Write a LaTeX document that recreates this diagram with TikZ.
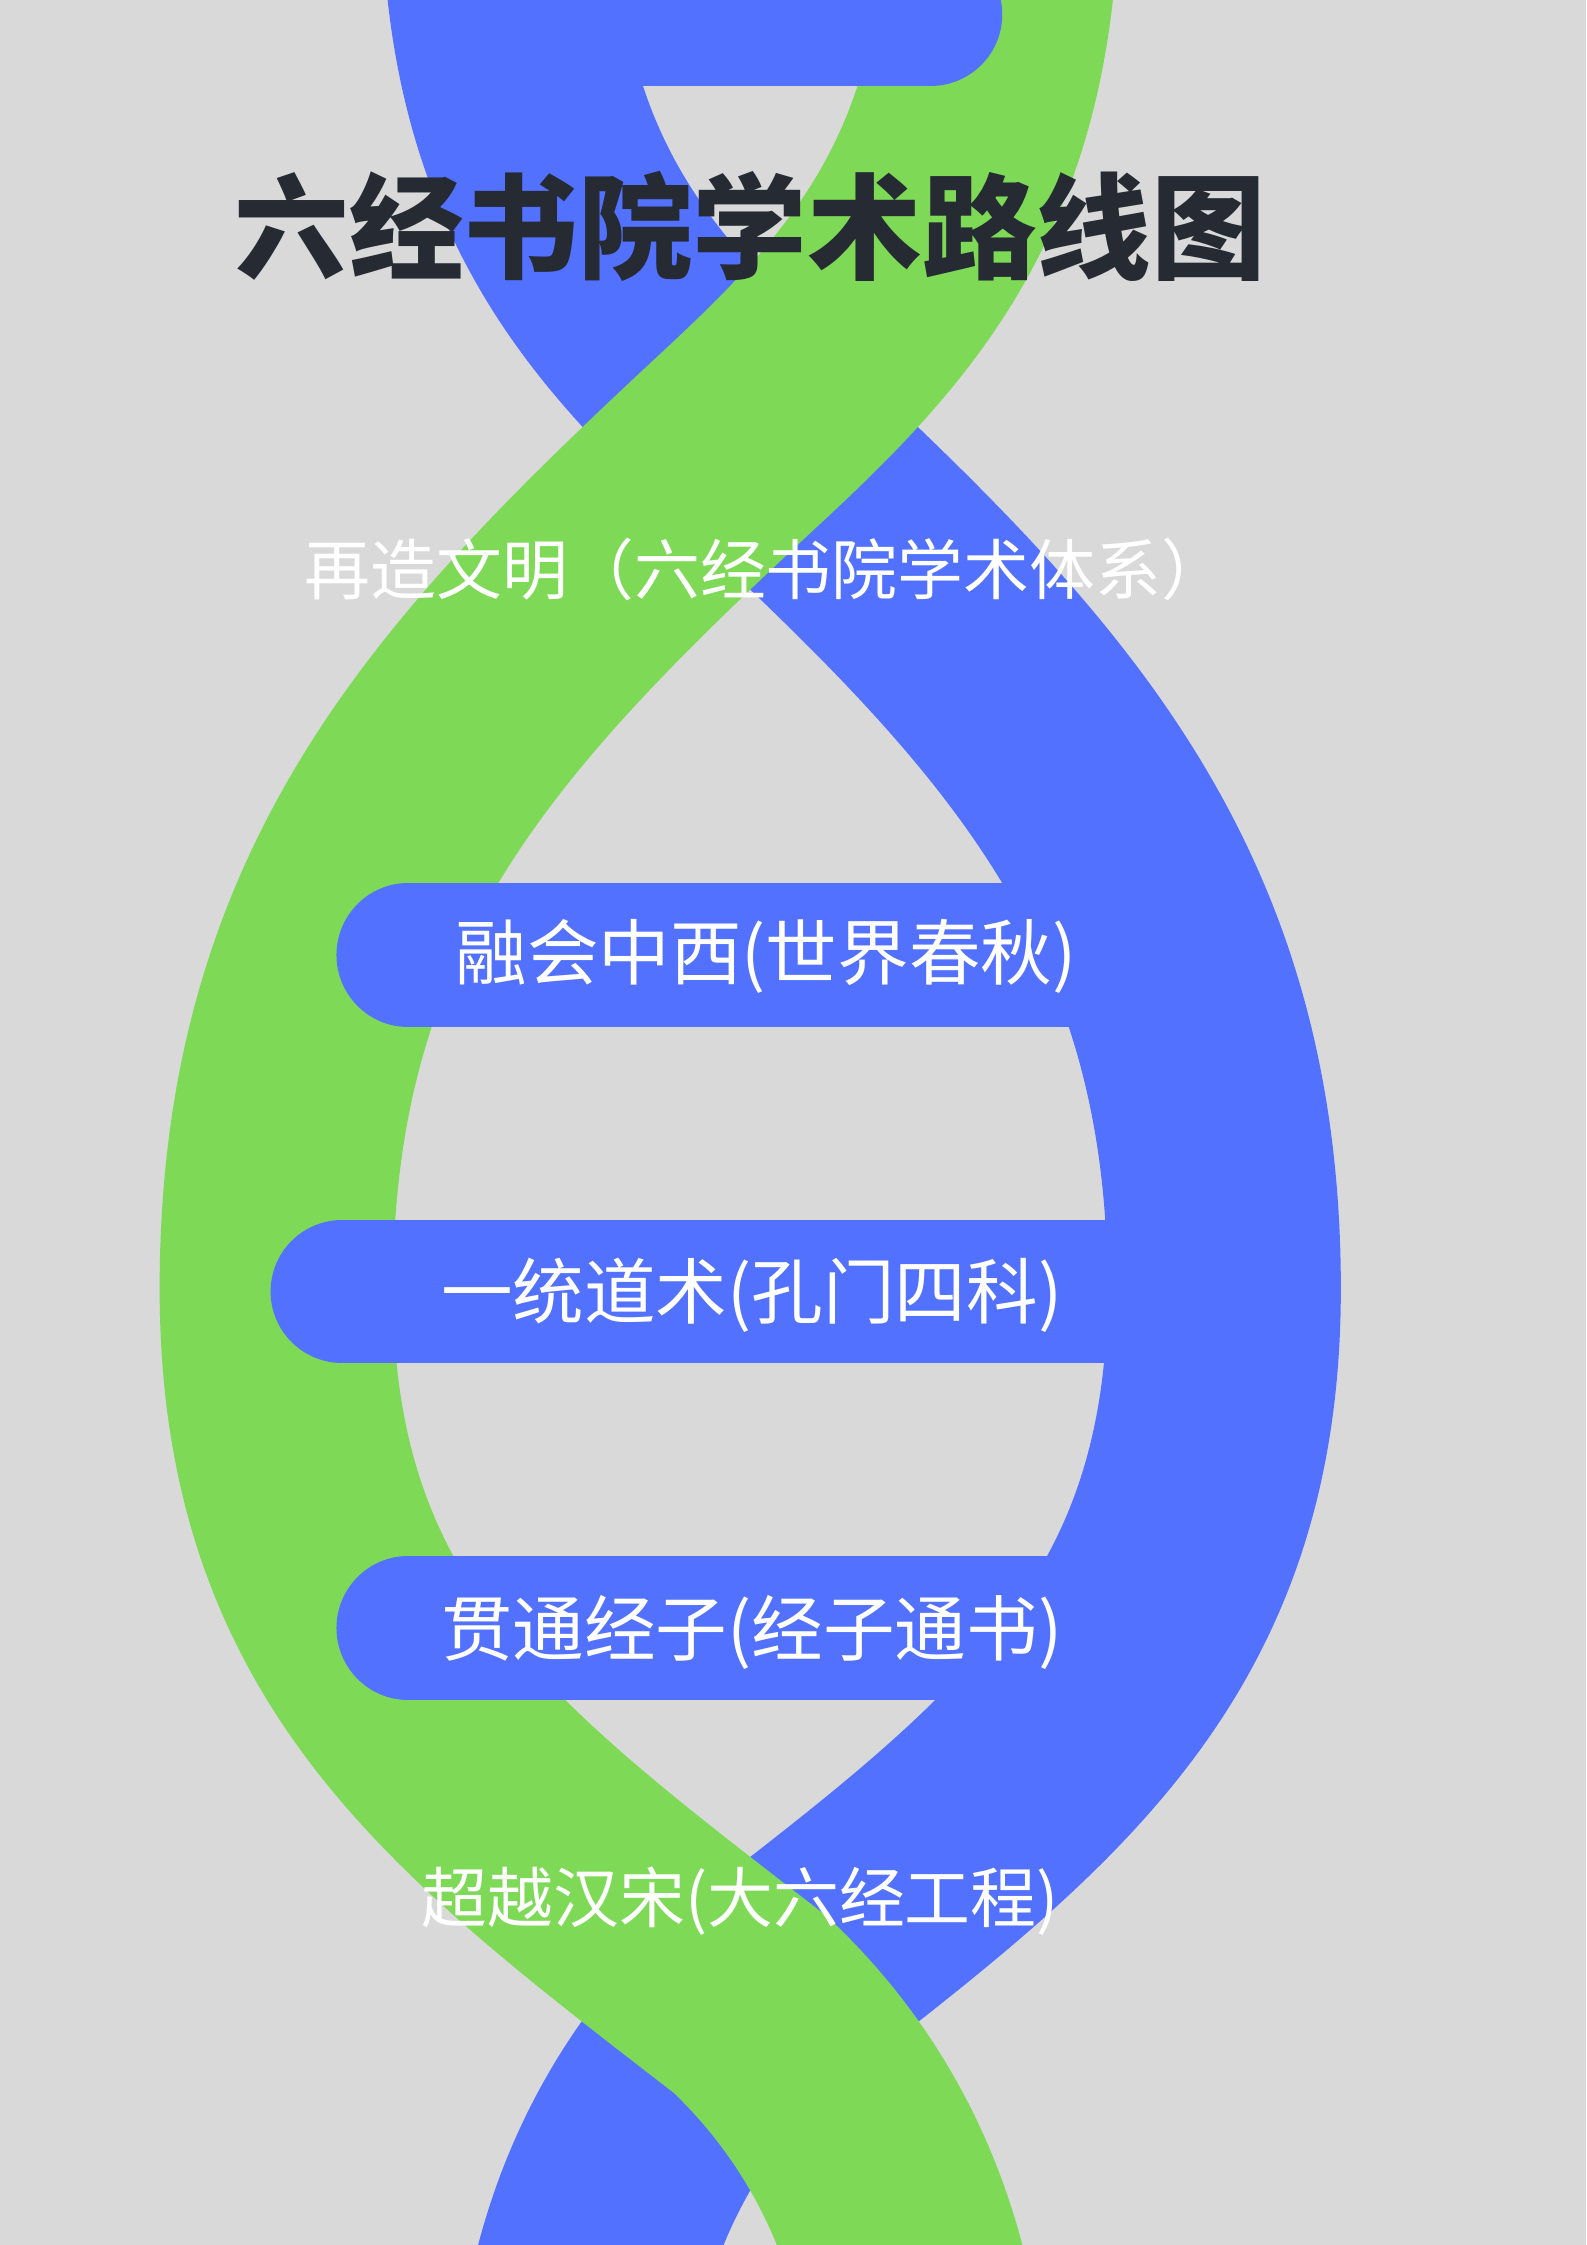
\documentclass[tikz,border=0pt]{standalone}
\usepackage{fontspec}
\newfontfamily\cjk{Noto Sans CJK SC}
\definecolor{bg}{HTML}{D9D9D9}
\definecolor{bl}{HTML}{5271FF}
\definecolor{gr}{HTML}{7ED957}
\definecolor{tt}{HTML}{252A33}
\begin{document}
\begin{tikzpicture}[x=1pt,y=-1pt,
  strand/.style={line width=163pt},
  rung/.style={line width=100pt,bl,line cap=round},
  lab/.style={text=white,font=\cjk\fontsize{46}{50}\selectfont,inner sep=0pt}]
\fill[bg] (0,0) rectangle (1108,1568);
\useasboundingbox (0,0) rectangle (1108,1568);
\clip (0,0) rectangle (1108,1568);
\coordinate (bt) at (348,-80);
\coordinate (bc1) at (524,300);
\coordinate (be) at (855,900);
\coordinate (bc2) at (524,1400);
\coordinate (bb) at (400,1660);
\draw[strand,bl] (bt) .. controls (348,120) and (428,210) .. (bc1)
  .. controls (718,480) and (855,620) .. (be)
  .. controls (855,1150) and (718,1250) .. (bc2)
  .. controls (450,1470) and (410,1560) .. (bb);
\coordinate (gt) at (700,-80);
\coordinate (gc1) at (524,300);
\coordinate (ge) at (193,900);
\coordinate (gc2) at (524,1400);
\coordinate (gb) at (648,1660);
\draw[strand,gr] (gt) .. controls (700,120) and (620,210) .. (gc1)
  .. controls (330,480) and (193,620) .. (ge)
  .. controls (193,1150) and (330,1250) .. (gc2)
  .. controls (598,1470) and (638,1560) .. (gb);
\coordinate (r0a) at (350,10); \coordinate (r0b) at (650,10);
\draw[rung] (r0a) -- (r0b);
\coordinate (r1a) at (285,667); \coordinate (r1b) at (790,667);
\draw[rung] (r1a) -- (r1b);
\coordinate (r2a) at (239,902); \coordinate (r2b) at (840,902);
\draw[rung] (r2a) -- (r2b);
\coordinate (r3a) at (285,1137); \coordinate (r3b) at (790,1137);
\draw[rung] (r3a) -- (r3b);
\node[inner sep=0pt,text=tt,font=\cjk\bfseries\fontsize{80}{84}\selectfont] (title) at (524,158) {六经书院学术路线图};
\node[lab] (t0) at (535,398) {再造文明（六经书院学术体系）};
\node[lab,font=\cjk\fontsize{50}{54}\selectfont] (t1) at (535,668) {融会中西(世界春秋)};
\node[lab,font=\cjk\fontsize{50}{54}\selectfont] (t2) at (525,905) {一统道术(孔门四科)};
\node[lab,font=\cjk\fontsize{50}{54}\selectfont] (t3) at (525,1140) {贯通经子(经子通书)};
\node[lab] (t4) at (517,1328) {超越汉宋(大六经工程)};
\end{tikzpicture}
\end{document}
